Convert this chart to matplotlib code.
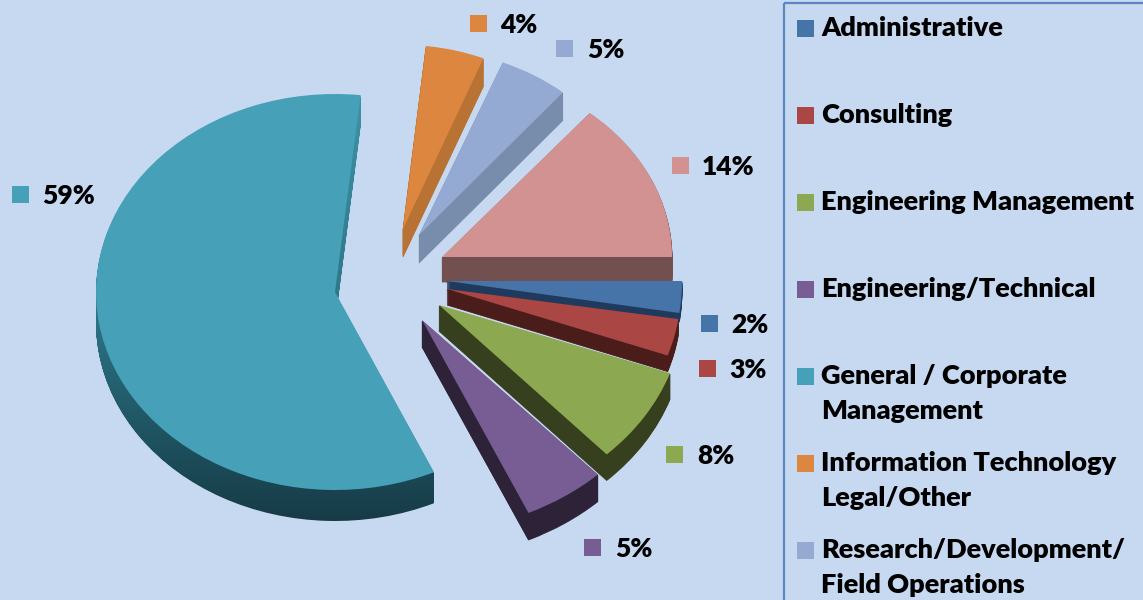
import numpy as np
import matplotlib
matplotlib.use("Agg")
import matplotlib.pyplot as plt
from matplotlib.patches import Wedge, Rectangle, PathPatch
from matplotlib.path import Path
from matplotlib.transforms import Affine2D

plt.rcParams["font.family"] = ["Lato", "DejaVu Sans"]

# shares, clockwise from 3 o'clock
slices = ["Administrative", "Consulting", "Engineering Management", "Engineering/Technical",
          "General / Corporate\nManagement", "Information Technology\nLegal/Other",
          "Research/Development/\nField Operations", "Other"]
shares = [2.4, 3.0, 7.6, 5.2, 58.51, 4.39, 5.0, 13.9]

top_colors = ["#4674a8", "#aa4644", "#8ca850", "#785c94", "#46a0b8", "#dc8640", "#94aad2", "#d29292"]
side_colors = ["#1f3a5c", "#4a1c1a", "#363f1e", "#2d2238", "#2a6878", "#b87334", "#788cab", "#72504f"]

# pixel layout of every exploded piece: centre x, centre y, radius x, radius y, depth
pieces = [
    (447, 281, 235, 213, 9),
    (447, 289, 234, 200, 16),
    (439, 305, 245, 205, 26),
    (422, 320, 257, 212, 27),
    (335, 292, 239, 198, 31),
    (403, 229, 215, 184, 28),
    (419, 235, 224, 186, 28),
    (442, 257, 230, 188, 25),
]
draw_order = [4, 5, 6, 7, 0, 1, 2, 3]

# square x, square y, text x of every percent label
label_spots = [
    (701, 315, 731), (699, 360, 729), (666, 446, 697), (584, 539, 615),
    (12, 186, 42), (470, 15, 500), (556, 40, 587), (672, 157, 702),
]
legend_rows = [28, 115, 202, 289, 376, 463, 550]

bg = "#c6d9f0"
fig = plt.figure(figsize=(11.43, 6), dpi=100, facecolor=bg)
ax = fig.add_axes([0, 0, 1, 1])
ax.set_xlim(0, 1143)
ax.set_ylim(600, 0)
ax.axis("off")

edges = 360 - np.cumsum([0] + shares) * 3.6


def piece_transform(i, drop=0):
    cx, cy, rx, ry, depth = pieces[i]
    return Affine2D().scale(rx, -ry).translate(cx, cy + drop)


for i in draw_order:
    depth = pieces[i][4]
    theta2, theta1 = edges[i], edges[i + 1]
    base = Wedge((0, 0), 1, theta1, theta2)
    z = 2 + draw_order.index(i)
    if slices[i].startswith("General"):
        # big slice has a rim that darkens to the bottom
        parts = [base.get_path().transformed(base.get_patch_transform() + piece_transform(i, d))
                 for d in range(1, depth + 1)]
        clip = PathPatch(Path.make_compound_path(*parts), transform=ax.transData, fc="none", ec="none")
        ax.add_patch(clip)
        ramp = np.linspace(0, 1, 256).reshape(-1, 1)
        cmap = matplotlib.colors.LinearSegmentedColormap.from_list("rim", ["#3f93a8", "#2c7688", "#163a45"])
        im = ax.imshow(ramp, extent=(90, 440, 525, 90), cmap=cmap, aspect="auto", zorder=1)
        im.set_clip_path(clip)
        ax.set_xlim(0, 1143)
        ax.set_ylim(600, 0)
    else:
        for d in range(1, depth + 1):
            ax.add_patch(Wedge((0, 0), 1, theta1, theta2, fc=side_colors[i], ec=side_colors[i], lw=0.6, zorder=z,
                               transform=piece_transform(i, d) + ax.transData))
    ax.add_patch(Wedge((0, 0), 1, theta1, theta2, fc=top_colors[i], ec="none", zorder=z,
                       transform=piece_transform(i) + ax.transData))

for i, (sx, sy, tx) in enumerate(label_spots):
    ax.add_patch(Rectangle((sx, sy), 17, 17, fc=top_colors[i], ec="none", zorder=20))
    ax.text(tx, sy + 10, f"{round(shares[i])}%", fontsize=19, fontweight="heavy", color="black",
            va="center", ha="left", zorder=20)

# legend box runs off the right and bottom of the picture
ax.add_patch(Rectangle((783.5, 3), 400, 640, fc="none", ec="#5a88c0", lw=1.6, zorder=20))
for i, y in enumerate(legend_rows):
    ax.add_patch(Rectangle((797, y - 8), 17, 17, fc=top_colors[i], ec="none", zorder=20))
    ax.text(821, y - 12, slices[i], fontsize=19.5, fontweight="heavy", color="black",
            va="top", ha="left", linespacing=1.53, zorder=20)

fig.savefig("out.png", dpi=100, facecolor=bg)
